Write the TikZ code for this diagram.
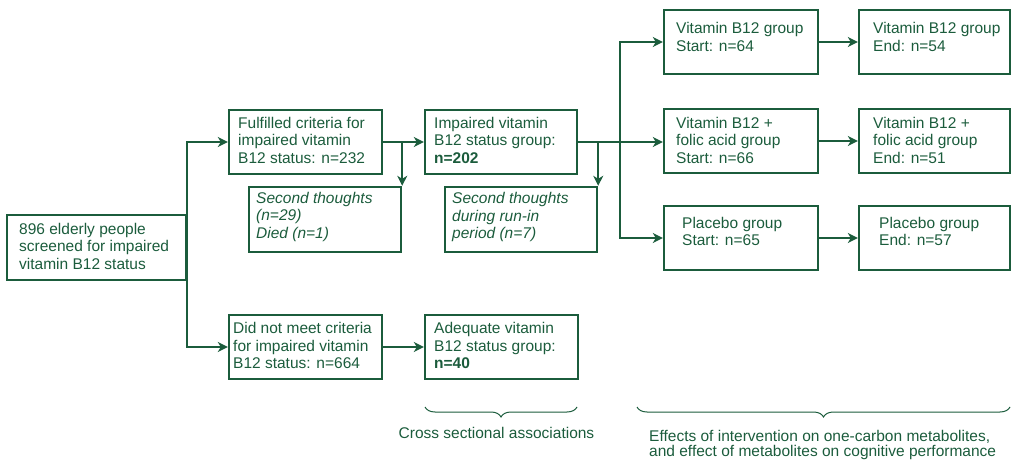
\documentclass[tikz,border=0pt]{standalone}
\usepackage{fontspec}
\setmainfont{Liberation Sans}
\usetikzlibrary{arrows.meta,decorations.pathreplacing}
\definecolor{dgreen}{RGB}{27,92,60}
\tikzset{
  box/.style={draw=dgreen, line width=2.4pt, inner sep=0pt},
  txt/.style={anchor=base west, inner sep=0pt, align=left, text=dgreen,
    font=\fontsize{15.5}{17.5}\selectfont},
  arr/.style={draw=dgreen, line width=1.5pt, -{Stealth[length=10pt,width=10pt,inset=3pt]}},
  brc/.style={draw=dgreen, line width=1pt, decorate, decoration={brace, mirror, amplitude=10pt}}
}
\begin{document}
\begin{tikzpicture}[x=1pt,y=-1pt]
\useasboundingbox (0,0) rectangle (1012,462);
% boxes
\node[box, minimum width=179pt, minimum height=65pt] (A) at (96.5,247.5) {};
\node[box, minimum width=153pt, minimum height=64pt] (B) at (305.5,142) {};
\node[box, minimum width=152pt, minimum height=65pt] (C) at (325,219.5) {};
\node[box, minimum width=152pt, minimum height=64pt] (D) at (501,142) {};
\node[box, minimum width=152pt, minimum height=65pt] (E) at (521,219.5) {};
\node[box, minimum width=154pt, minimum height=64pt] (F) at (741,42) {};
\node[box, minimum width=154pt, minimum height=64pt] (G) at (741,141) {};
\node[box, minimum width=154pt, minimum height=64pt] (H) at (741,238) {};
\node[box, minimum width=151pt, minimum height=64pt] (I1) at (934.5,42) {};
\node[box, minimum width=151pt, minimum height=64pt] (I2) at (934.5,141) {};
\node[box, minimum width=151pt, minimum height=64pt] (I3) at (934.5,238) {};
\node[box, minimum width=153pt, minimum height=64pt] (J) at (305.5,347) {};
\node[box, minimum width=153pt, minimum height=64pt] (K) at (501.5,347) {};
% texts (anchored at the baseline of their last line)
\node[txt] (tA) at (19,269.5) {896 elderly people\\screened for impaired\\vitamin B12 status};
\node[txt] (tB) at (238,163.5) {Fulfilled criteria for\\impaired vitamin\\B12 status: n=232};
\node[txt, font=\fontsize{15.5}{17.5}\selectfont\itshape] (tC) at (256,238.5) {Second thoughts\\(n=29)\\Died (n=1)};
\node[txt] (tD) at (434,163.5) {Impaired vitamin\\B12 status group:\\\textbf{n=202}};
\node[txt, font=\fontsize{15.5}{17.5}\selectfont\itshape] (tE) at (452,239) {Second thoughts\\during run-in\\period (n=7)};
\node[txt] (tF) at (676,51.5) {Vitamin B12 group\\Start: n=64};
\node[txt] (tG) at (676,163.5) {Vitamin B12 +\\folic acid group\\Start: n=66};
\node[txt] (tH) at (682,246) {Placebo group\\Start: n=65};
\node[txt] (tI1) at (873,51.5) {Vitamin B12 group\\End: n=54};
\node[txt] (tI2) at (873,163.5) {Vitamin B12 +\\folic acid group\\End: n=51};
\node[txt] (tI3) at (879,246) {Placebo group\\End: n=57};
\node[txt] (tJ) at (233,368.5) {Did not meet criteria\\for impaired vitamin\\B12 status: n=664};
\node[txt] (tK) at (434,368.5) {Adequate vitamin\\B12 status group:\\\textbf{n=40}};
% connectors
\draw[arr] (A.east) |- (B.west);
\draw[arr] (A.east) |- (J.west);
\draw[arr] (B.east) -- (B.east -| D.west);
\draw[arr] (C.north east |- B.east) -- (C.north east);
\draw[arr] (D.east) -- (D.east -| G.west);
\draw[arr] (E.north east |- D.east) -- (E.north east);
\coordinate (T) at (620,142);
\draw[arr] (T) |- (F.west);
\draw[arr] (T) |- (H.west);
\draw[arr] (F.east) -- (I1.west);
\draw[arr] (G.east) -- (I2.west);
\draw[arr] (H.east) -- (I3.west);
\draw[arr] (J.east) -- (K.west);
% braces
\coordinate (b1a) at (425,407);
\coordinate (b1b) at (577,407);
\coordinate (b2a) at (637,407);
\coordinate (b2b) at (1010,407);
\draw[brc] (b1a) -- (b1b);
\draw[brc] (b2a) -- (b2b);
\node[txt, anchor=base] (cs) at (496.5,438) {Cross sectional associations};
\node[txt, font=\fontsize{15.5}{15}\selectfont] (eff) at (649,456.5) {Effects of intervention on one-carbon metabolites,\\and effect of metabolites on cognitive performance};
\end{tikzpicture}
\end{document}
